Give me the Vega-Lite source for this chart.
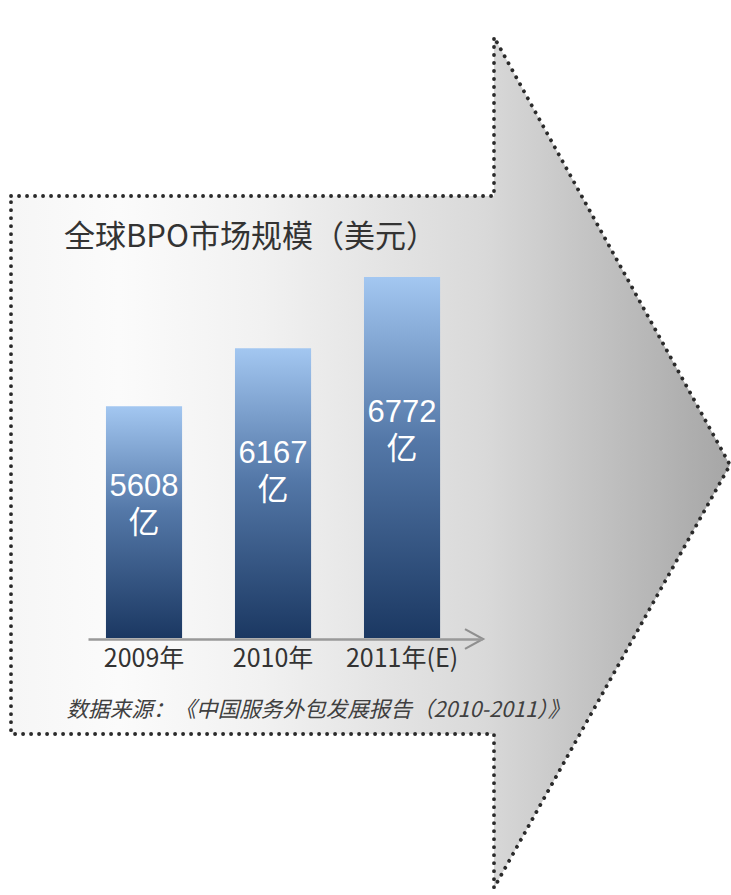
{
  "$schema": "https://vega.github.io/schema/vega-lite/v6.json",
  "width": 731,
  "height": 895,
  "autosize": "none",
  "padding": 0,
  "background": "white",
  "config": {"view": {"stroke": null}},
  "title": {
    "text": "全球BPO市场规模（美元）",
    "orient": "top",
    "anchor": "start",
    "frame": "group",
    "offset": 0,
    "dx": 64,
    "dy": 269,
    "baseline": "middle",
    "font": "Noto Sans CJK SC",
    "fontSize": 31,
    "fontWeight": "normal",
    "color": "#333333"
  },
  "datasets": {
    "arrow": [
      {"i": 0, "px": 11, "py": 196, "py2": 734},
      {"i": 1, "px": 494, "py": 196, "py2": 734},
      {"i": 2, "px": 494, "py": 37, "py2": 888},
      {"i": 3, "px": 730, "py": 465, "py2": 465}
    ],
    "outline": [
      {"i": 0, "px": 11, "py": 196},
      {"i": 1, "px": 494, "py": 196},
      {"i": 2, "px": 494, "py": 37},
      {"i": 3, "px": 730, "py": 465},
      {"i": 4, "px": 494, "py": 888},
      {"i": 5, "px": 494, "py": 734},
      {"i": 6, "px": 11, "py": 734},
      {"i": 7, "px": 11, "py": 196}
    ],
    "chevron": [{"px": 474, "py": 639}],
    "market": [
      {"year": "2009年", "value": 5608, "label": "5608\n亿"},
      {"year": "2010年", "value": 6167, "label": "6167\n亿"},
      {"year": "2011年(E)", "value": 6772, "label": "6772\n亿"}
    ]
  },
  "resolve": {"scale": {"x": "independent", "y": "independent"}, "axis": {"x": "independent", "y": "independent"}},
  "layer": [
    {
      "data": {"name": "arrow"},
      "mark": {
        "type": "area",
        "interpolate": "linear",
        "fill": {
          "gradient": "linear",
          "x1": 0, "y1": 0, "x2": 1, "y2": 0,
          "stops": [
            {"offset": 0, "color": "#f6f6f6"},
            {"offset": 0.15, "color": "#fbfbfb"},
            {"offset": 0.35, "color": "#f1f1f1"},
            {"offset": 0.66, "color": "#d9d9d9"},
            {"offset": 1, "color": "#a6a6a6"}
          ]
        }
      },
      "encoding": {
        "x": {"field": "px", "type": "quantitative", "scale": {"domain": [0, 731], "range": [0, 731], "nice": false, "zero": false}, "axis": null},
        "y": {"field": "py", "type": "quantitative", "scale": {"domain": [0, 895], "range": [0, 895], "nice": false, "zero": false}, "axis": null},
        "y2": {"field": "py2"}
      }
    },
    {
      "data": {"name": "outline"},
      "mark": {"type": "line", "interpolate": "linear", "color": "#2a2a2a", "strokeWidth": 3.8, "strokeCap": "round", "strokeDash": [0.1, 7.9]},
      "encoding": {
        "x": {"field": "px", "type": "quantitative", "scale": {"domain": [0, 731], "range": [0, 731], "nice": false, "zero": false}, "axis": null},
        "y": {"field": "py", "type": "quantitative", "scale": {"domain": [0, 895], "range": [0, 895], "nice": false, "zero": false}, "axis": null},
        "order": {"field": "i", "type": "quantitative"}
      }
    },
    {
      "data": {"name": "market"},
      "mark": {
        "type": "bar",
        "color": {
          "gradient": "linear",
          "x1": 0, "y1": 0, "x2": 0, "y2": 1,
          "stops": [
            {"offset": 0, "color": "#a3c7f1"},
            {"offset": 0.45, "color": "#5478a8"},
            {"offset": 1, "color": "#1b3862"}
          ]
        }
      },
      "encoding": {
        "x": {
          "field": "year", "type": "nominal", "sort": null,
          "scale": {"type": "band", "range": [88, 482], "paddingInner": 0.41, "paddingOuter": 0.232, "align": 0.3},
          "axis": {
            "orient": "bottom",
            "offset": -256,
            "zindex": 2,
            "domainColor": "#999999",
            "domainWidth": 2.5,
            "ticks": false,
            "labelAngle": 0,
            "labelFont": "Noto Sans CJK SC",
            "labelFontSize": 25,
            "labelColor": "#333333",
            "labelPadding": 7,
            "title": "数据来源：《中国服务外包发展报告（2010-2011）》",
            "titleFont": "Noto Sans CJK SC",
            "titleFontSize": 21.6,
            "titleFontStyle": "italic",
            "titleFontWeight": "normal",
            "titleColor": "#404040",
            "titleAnchor": "start",
            "titleAlign": "left",
            "titleBaseline": "middle",
            "titleX": 66,
            "titleY": 71
          }
        },
        "y": {"field": "value", "type": "quantitative", "scale": {"type": "pow", "exponent": 2.35, "domain": [0, 6772], "range": [638, 277], "nice": false, "zero": true}, "axis": null}
      }
    },
    {
      "data": {"name": "market"},
      "mark": {"type": "text", "lineBreak": "\n", "lineHeight": 37, "baseline": "middle", "align": "center", "font": "Liberation Sans, Noto Sans CJK SC", "fontSize": 31, "color": "white"},
      "encoding": {
        "x": {"field": "year", "type": "nominal", "sort": null, "scale": {"type": "band", "range": [88, 482], "paddingInner": 0.41, "paddingOuter": 0.232, "align": 0.3}, "axis": null},
        "y": {"field": "value", "type": "quantitative", "scale": {"type": "pow", "exponent": 2.35, "domain": [0, 6772], "range": [621, 413], "nice": false, "zero": true}, "axis": null},
        "text": {"field": "label"}
      }
    },
    {
      "data": {"name": "chevron"},
      "mark": {"type": "point", "shape": "M-1,-1.1L1,0L-1,1.1", "filled": false, "stroke": "#8f8f8f", "strokeWidth": 2.2, "size": 324, "opacity": 1},
      "encoding": {
        "x": {"field": "px", "type": "quantitative", "scale": {"domain": [0, 731], "range": [0, 731], "nice": false, "zero": false}, "axis": null},
        "y": {"field": "py", "type": "quantitative", "scale": {"domain": [0, 895], "range": [0, 895], "nice": false, "zero": false}, "axis": null}
      }
    }
  ]
}
